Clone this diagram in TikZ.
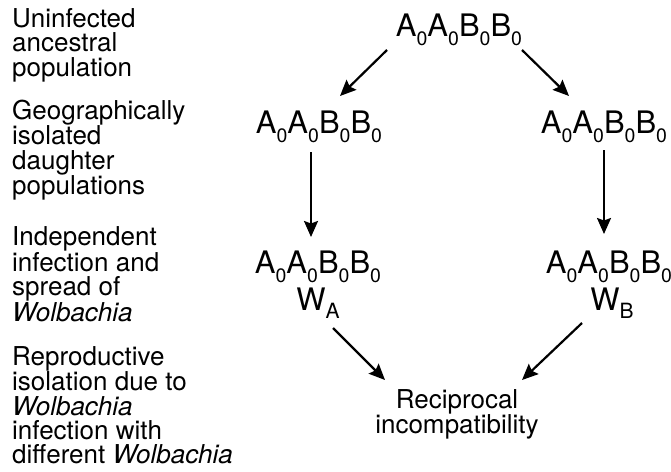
\documentclass[tikz,border=0pt]{standalone}
\usepackage{fontspec}
\setmainfont{TeX Gyre Heros}
\usetikzlibrary{arrows.meta,calc}
% genotype with lowered zero subscripts
\newcommand{\lowz}{\raisebox{-9pt}{\fontsize{19.5}{19.5}\selectfont 0}}
\newcommand{\AABB}{A\lowz A\lowz B\lowz B\lowz}
\newcommand{\wsub}[1]{W\raisebox{-8pt}{\fontsize{21}{21}\selectfont #1}}
\tikzset{
  flow/.style={-{Stealth[length=16pt,width=14pt,inset=2.5pt]},line width=2.2pt},
  geno/.style={font=\fontsize{31}{31}\selectfont,inner sep=0pt,anchor=base},
  stage/.style={font=\fontsize{26}{24.4}\selectfont,align=left,inner sep=0pt,
    anchor=north west},
  result/.style={font=\fontsize{26}{24.4}\selectfont,align=center,inner sep=0pt,
    anchor=north}
}

\begin{document}
\begin{tikzpicture}[x=1pt,y=-1pt]
  \useasboundingbox (0,0) rectangle (671,471);
  % stage labels down the left side
  \node[stage] (s1) at (12,8) {Uninfected\\ancestral\\population};
  \node[stage] (s2) at (12,99.5) {Geographically\\isolated\\daughter\\populations};
  \node[stage] (s3) at (12,226.7) {Independent\\infection and\\spread of\\\textit{Wolbachia}};
  \node[stage] (s4) at (12,346) {Reproductive\\isolation due to\\\textit{Wolbachia}\\infection with\\different \textit{Wolbachia}};
  % populations
  \node[geno] (anc) at (459,36) {\AABB};
  \node[geno] (dauL) at (319,133) {\AABB};
  \node[geno] (dauR) at (604,133) {\AABB};
  \node[geno] (infL) at (318,273) {\AABB};
  \node[geno] (infR) at (609,273) {\AABB};
  \node[geno] (wA) at (318,310.5) {\wsub{A}};
  \node[geno] (wB) at (612,310.5) {\wsub{B}};
  \node[result] (recip) at (457,389) {Reciprocal\\incompatibility};
  % arrows
  \draw[flow] ($(anc.base)+(-72,14)$) -- ($(dauL.base)+(21,-37)$);
  \draw[flow] ($(anc.base)+(63,14)$) -- ($(dauR.base)+(-35,-37)$);
  \draw[flow] ($(dauL.base)+(-8,19)$) -- ($(infL.base)+(-7,-36)$);
  \draw[flow] ($(dauR.base)+(0,17)$) -- ($(infR.base)+(-5,-39)$);
  \draw[flow] ($(wA.base)+(15,17.5)$) -- ($(recip.north)+(-72,-9)$);
  \draw[flow] ($(wB.base)+(-30,12.5)$) -- ($(recip.north)+(65,-9)$);
\end{tikzpicture}
\end{document}
